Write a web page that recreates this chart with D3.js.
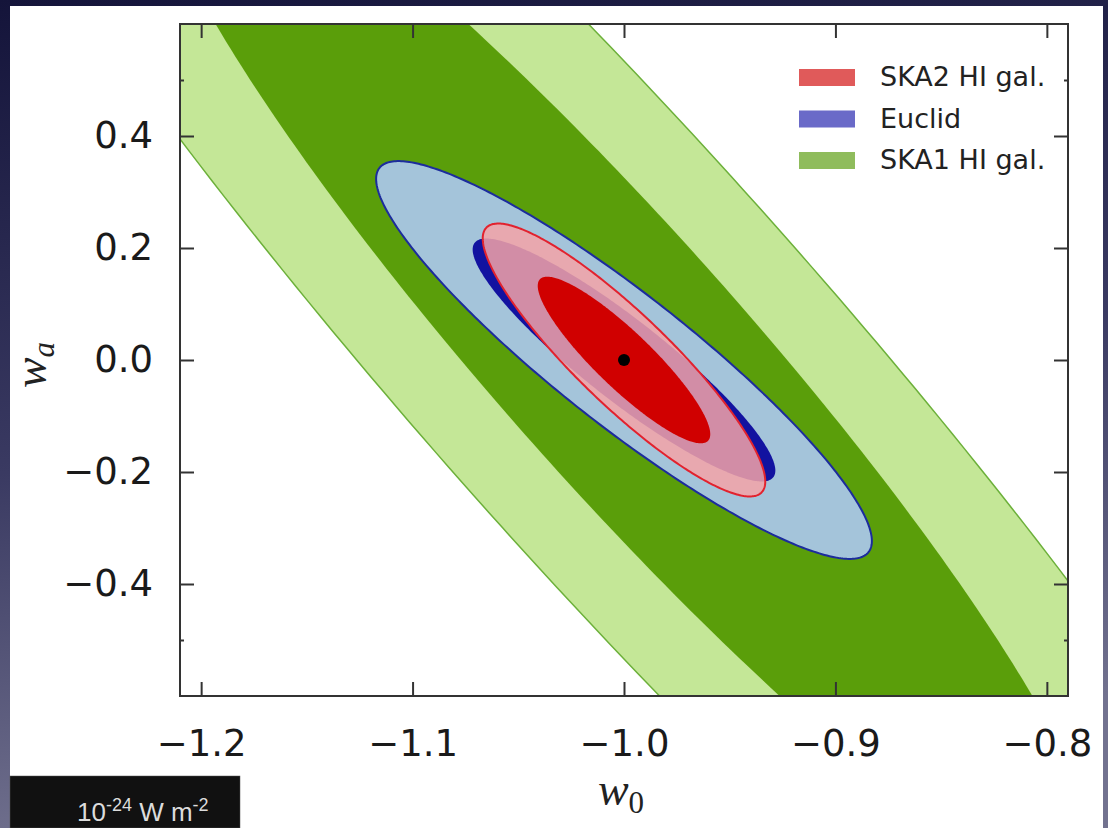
<!DOCTYPE html>
<html>
<head>
<meta charset="utf-8">
<script src="https://cdn.jsdelivr.net/npm/d3@7"></script>
<style>
  html, body { margin: 0; padding: 0; }
  body { width: 1108px; height: 828px; overflow: hidden; }
</style>
</head>
<body>
<div id="chart"></div>
<script>
// Fisher forecast contours in the (w0, wa) plane
const fiducial = [-1.0, 0.0];               // w0, wa
const deltaChi2 = [6.17, 2.30];              // 2 sigma (outer), 1 sigma (inner)
// drawing order : SKA1 at the back, SKA2 in front
const experiments = ["SKA1 HI gal.", "Euclid", "SKA2 HI gal."];
const sigmaW0 = [0.148, 0.0472, 0.0269];
const sigmaWa = [0.625, 0.143, 0.0981];
const rhoW0Wa = [-0.939, -0.91, -0.89];

const legendOrder = ["SKA2 HI gal.", "Euclid", "SKA1 HI gal."];
const xTicks = [-1.2, -1.1, -1.0, -0.9, -0.8];
const yTicks = [-0.4, -0.2, 0.0, 0.2, 0.4];
const yMinorTicks = [-0.5, 0.5];

// couleurs des contours
const styles = {
  "SKA1 HI gal.": { outer: "#c4e797", inner: "#5a9e0a", edge: "#6cb03a", edgeW: 1.5, outerOpacity: 1, legend: "#8fbc5c" },
  "Euclid":       { outer: "#a4c4da", inner: "#1212a0", edge: "#1c2c9c", edgeW: 2, outerOpacity: 1, legend: "#6a6ac8" },
  "SKA2 HI gal.": { outer: "#f5a3a7", inner: "#d00000", edge: "#e2222e", edgeW: 2, outerOpacity: 0.85, legend: "#e05a5a" }
};

const W = 1108, H = 828;
const plot = { left: 180, right: 1068, top: 24, bottom: 696 };

const svg = d3.select("#chart").append("svg")
  .attr("width", W).attr("height", H)
  .style("display", "block");

// fond type diapo
const defs = svg.append("defs");
const grad = defs.append("linearGradient").attr("id", "bg")
  .attr("x1", 0).attr("y1", 0).attr("x2", 0.2).attr("y2", 1);
grad.append("stop").attr("offset", "0%").attr("stop-color", "#14143a");
grad.append("stop").attr("offset", "55%").attr("stop-color", "#3a3a62");
grad.append("stop").attr("offset", "100%").attr("stop-color", "#72728f");
svg.append("rect").attr("width", W).attr("height", H).attr("fill", "url(#bg)");

// panneau blanc
svg.append("rect").attr("x", 10).attr("y", 6).attr("width", 1093).attr("height", H - 6)
  .attr("fill", "#ffffff");

defs.append("clipPath").attr("id", "plotClip").append("rect")
  .attr("x", plot.left).attr("y", plot.top)
  .attr("width", plot.right - plot.left).attr("height", plot.bottom - plot.top);

const x = d3.scaleLinear().domain([-1.21, -0.79]).range([plot.left, plot.right]);
const y = d3.scaleLinear().domain([-0.6, 0.6]).range([plot.bottom, plot.top]);

// points of an ellipse chi2 = k2 from sigmas and correlation
function ellipsePoints(i, k2) {
  const k = Math.sqrt(k2);
  const sx = sigmaW0[i], sy = sigmaWa[i], r = rhoW0Wa[i];
  return d3.range(0, 360).map(a => {
    const t = a * Math.PI / 180;
    return [
      fiducial[0] + k * sx * Math.cos(t),
      fiducial[1] + k * sy * (r * Math.cos(t) + Math.sqrt(1 - r * r) * Math.sin(t))
    ];
  });
}

const line = d3.line().x(d => x(d[0])).y(d => y(d[1])).curve(d3.curveLinearClosed);

const contours = svg.append("g").attr("clip-path", "url(#plotClip)");

experiments.forEach((name, i) => {
  const st = styles[name];
  // contour 2 sigma
  contours.append("path")
    .attr("d", line(ellipsePoints(i, deltaChi2[0])))
    .attr("fill", st.outer)
    .attr("fill-opacity", st.outerOpacity)
    .attr("stroke", st.edge)
    .attr("stroke-width", st.edgeW);
  // contour 1 sigma
  contours.append("path")
    .attr("d", line(ellipsePoints(i, deltaChi2[1])))
    .attr("fill", st.inner)
    .attr("stroke", "none");
});

// point fiduciel
contours.append("circle")
  .attr("cx", x(fiducial[0])).attr("cy", y(fiducial[1]))
  .attr("r", 6).attr("fill", "#000");

// axes (ticks vers l'intérieur)
const fmt = d3.format(".1f");
const tickColor = "#333";

const xAxis = svg.append("g").attr("transform", `translate(0,${plot.bottom})`)
  .call(d3.axisBottom(x).tickValues(xTicks).tickSize(-14).tickPadding(34).tickFormat(fmt));
const xTop = svg.append("g").attr("transform", `translate(0,${plot.top})`)
  .call(d3.axisTop(x).tickValues(xTicks).tickSize(-14).tickFormat(""));
const yAxis = svg.append("g").attr("transform", `translate(${plot.left},0)`)
  .call(d3.axisLeft(y).tickValues(yTicks).tickSize(-14).tickPadding(27).tickFormat(fmt));
const yRight = svg.append("g").attr("transform", `translate(${plot.right},0)`)
  .call(d3.axisRight(y).tickValues(yTicks).tickSize(-14).tickFormat(""));
const yMinL = svg.append("g").attr("transform", `translate(${plot.left},0)`)
  .call(d3.axisLeft(y).tickValues(yMinorTicks).tickSize(-4).tickFormat(""));
const yMinR = svg.append("g").attr("transform", `translate(${plot.right},0)`)
  .call(d3.axisRight(y).tickValues(yMinorTicks).tickSize(-4).tickFormat(""));

[xAxis, xTop, yAxis, yRight, yMinL, yMinR].forEach(g => {
  g.select(".domain").remove();
  g.selectAll(".tick line").attr("stroke", tickColor).attr("stroke-width", 2);
  g.selectAll(".tick text")
    .attr("fill", "#1a1a1a")
    .style("font-family", "'DejaVu Sans', sans-serif")
    .style("font-size", "37px");
});

// cadre
svg.append("rect")
  .attr("x", plot.left).attr("y", plot.top)
  .attr("width", plot.right - plot.left).attr("height", plot.bottom - plot.top)
  .attr("fill", "none").attr("stroke", "#333").attr("stroke-width", 2);

// labels des axes
const xLabel = svg.append("text")
  .attr("x", 621).attr("y", 805)
  .attr("text-anchor", "middle")
  .style("font-family", "'Liberation Serif', serif")
  .style("font-style", "italic")
  .style("font-size", "46px")
  .attr("fill", "#222");
xLabel.append("tspan").text("w");
xLabel.append("tspan").attr("dy", 8).style("font-size", "31px").style("font-style", "normal").text("0");

const yLabel = svg.append("text")
  .attr("transform", "translate(46,365) rotate(-90)")
  .attr("text-anchor", "middle")
  .style("font-family", "'Liberation Serif', serif")
  .style("font-style", "italic")
  .style("font-size", "46px")
  .attr("fill", "#222");
yLabel.append("tspan").text("w");
yLabel.append("tspan").attr("dy", 8).style("font-size", "31px").text("a");

// légende
const legend = svg.append("g");
legendOrder.forEach((name, i) => {
  const ly = 69 + i * 41.5;
  legend.append("rect")
    .attr("x", 799).attr("y", ly)
    .attr("width", 56).attr("height", 17)
    .attr("fill", styles[name].legend);
  legend.append("text")
    .attr("x", 880).attr("y", ly + 17)
    .style("font-family", "'DejaVu Sans', sans-serif")
    .style("font-size", "27px")
    .attr("fill", "#222")
    .text(name);
});

// encart noir en bas à gauche
svg.append("rect").attr("x", 10).attr("y", 776).attr("width", 230).attr("height", 52)
  .attr("fill", "#111").attr("stroke", "#555").attr("stroke-width", 0.5);
const unit = svg.append("text")
  .attr("x", 77).attr("y", 821)
  .style("font-family", "'Liberation Sans', Arial, sans-serif")
  .style("font-size", "26px")
  .attr("fill", "#dcdcdc");
unit.append("tspan").text("10");
unit.append("tspan").attr("dy", -10).style("font-size", "18px").text("-24");
unit.append("tspan").attr("dy", 10).text(" W m");
unit.append("tspan").attr("dy", -10).style("font-size", "18px").text("-2");
</script>
</body>
</html>
